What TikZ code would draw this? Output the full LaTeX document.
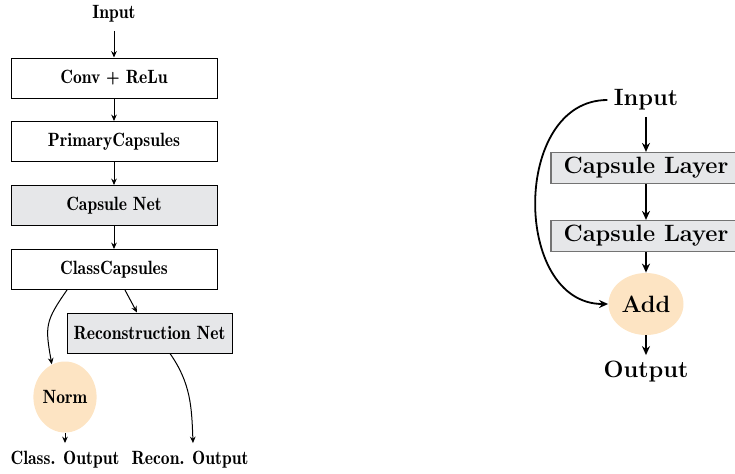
\documentclass[tikz,border=0pt]{standalone}
\usetikzlibrary{arrows.meta,shapes.geometric}
\definecolor{boxgray}{HTML}{E6E7E9}
\definecolor{peach}{HTML}{FDE4C3}
\newcommand\lfnt{\fontsize{9.6}{11}\fontseries{b}\selectfont}
\newcommand\lt[1]{\scalebox{0.915}[1]{#1}}
\newcommand\rfnt{\fontsize{11.8}{14}\bfseries}
\begin{document}
\begin{tikzpicture}[x=0.5pt,y=-0.5pt,
  lbox/.style={draw, line width=0.5pt, minimum width=103pt, minimum height=20pt, inner sep=0pt, font=\lfnt},
  lgray/.style={lbox, fill=boxgray},
  ltext/.style={inner sep=4pt, font=\lfnt},
  lell/.style={ellipse, fill=peach, minimum width=29.5pt, minimum height=35.5pt, inner sep=0pt, font=\lfnt},
  larr/.style={-{Stealth[length=3.2pt,width=2.8pt]}, line width=0.5pt},
  rbox/.style={draw=black!55, fill=boxgray, line width=0.6pt, minimum width=95pt, minimum height=15.5pt, inner sep=0pt, font=\rfnt},
  rtext/.style={inner sep=3pt, font=\rfnt},
  rell/.style={ellipse, fill=peach, minimum width=37.5pt, minimum height=31pt, inner sep=0pt, font=\rfnt},
  rarr/.style={-{Stealth[length=4.5pt,width=4pt]}, line width=0.9pt}
]
\useasboundingbox (0,0) rectangle (735,473);
% left diagram
\node[ltext] (in1) at (114,14) {\lt{Input}};
\node[lbox] (c1) at (114,78) {\lt{Conv + ReLu}};
\node[lbox] (pc) at (114,141.5) {\lt{PrimaryCapsules}};
\node[lgray] (cn) at (114,205.5) {\lt{Capsule Net}};
\node[lbox] (cc) at (114,269.5) {\lt{ClassCapsules}};
\node[lbox, fill=boxgray, minimum width=82.5pt] (rn) at (149.5,333) {\lt{Reconstruction Net}};
\node[lell] (nm) at (65,397) {\lt{Norm}};
\node[ltext] (co) at (65,460) {\lt{Class. Output}};
\node[ltext] (ro) at (190,460) {\lt{Recon. Output}};
\draw[larr] (in1) -- (c1);
\draw[larr] (c1) -- (pc);
\draw[larr] (pc) -- (cn);
\draw[larr] (cn) -- (cc);
\draw[larr] ([xshift=-23.5pt]cc.south) to[out=-125,in=100,looseness=1.3] (nm.112);
\draw[larr] ([xshift=5.5pt]cc.south) -- ([xshift=-6.25pt]rn.north);
\draw[larr] (nm) -- (co);
\draw[larr] ([xshift=10.25pt]rn.south) to[out=-55,in=92] ([xshift=1.5pt]ro.north);
% right diagram
\node[rtext] (in2) at (646,100) {Input};
\node[rbox] (l1) at (646,168) {Capsule Layer};
\node[rbox] (l2) at (646,236) {Capsule Layer};
\node[rell] (add) at (646,304) {Add};
\node[rtext] (out) at (646,372) {Output};
\draw[rarr] (in2) -- (l1);
\draw[rarr] (l1) -- (l2);
\draw[rarr] (l2) -- (add);
\draw[rarr] (add) -- (out);
\draw[rarr] (in2.west) to[out=180,in=180,looseness=1.2] (add.west);
\end{tikzpicture}
\end{document}
